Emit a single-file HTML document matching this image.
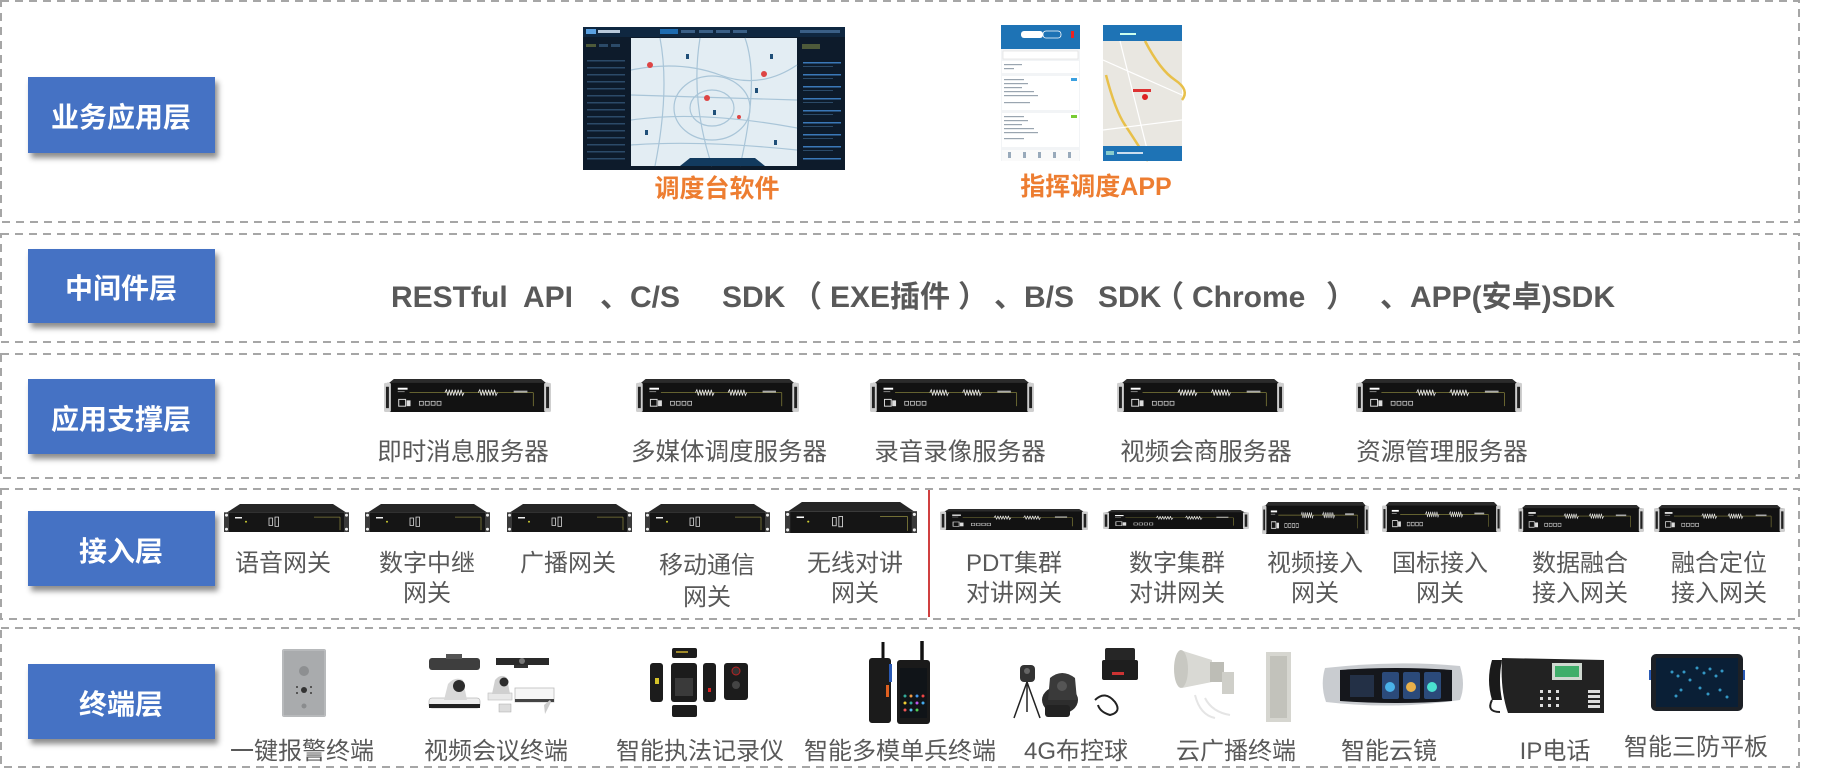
<!DOCTYPE html>
<html>
<head>
<meta charset="utf-8">
<style>
html,body{margin:0;padding:0;background:#fff;}
svg{display:block;}
text{font-family:"Liberation Sans","Noto Sans CJK SC",sans-serif;}
</style>
</head>
<body>
<svg width="1834" height="779" viewBox="0 0 1834 779" xmlns="http://www.w3.org/2000/svg">
<defs>
  <filter id="sh" x="-10%" y="-10%" width="130%" height="150%">
    <feDropShadow dx="3" dy="5" stdDeviation="3" flood-color="#000" flood-opacity="0.45"/>
  </filter>
  <symbol id="srv" viewBox="0 0 170 34" preserveAspectRatio="none">
    <polygon points="10,0 160,0 166,5 4,5" fill="#2b2b2b"/>
    <rect x="3" y="4" width="164" height="30" fill="#121212"/>
    <rect x="0" y="4" width="7" height="30" rx="1.5" fill="#cfcfcf"/>
    <rect x="2" y="8" width="3" height="22" fill="#222"/>
    <rect x="163" y="4" width="7" height="30" rx="1.5" fill="#cfcfcf"/>
    <rect x="165" y="8" width="3" height="22" fill="#222"/>
    <rect x="14" y="9" width="10" height="2" fill="#fff"/>
    <rect x="14" y="12.5" width="7" height="1" fill="#888"/>
    <line x1="26" y1="14" x2="152" y2="14" stroke="#807c3a" stroke-width="0.8"/>
    <line x1="152" y1="14" x2="152" y2="28" stroke="#807c3a" stroke-width="0.8"/>
    <path d="M62 14 l1.5 -3 l1.5 6 l1.5 -6 l1.5 6 l1.5 -6 l1.5 6 l1.5 -6 l1.5 6 l1.5 -6 l1.5 6 l1.5 -6 l1.5 6 l1.5 -3" fill="none" stroke="#eee" stroke-width="0.8"/>
    <path d="M96 14 l1.5 -3 l1.5 6 l1.5 -6 l1.5 6 l1.5 -6 l1.5 6 l1.5 -6 l1.5 6 l1.5 -6 l1.5 6 l1.5 -6 l1.5 6 l1.5 -3" fill="none" stroke="#eee" stroke-width="0.8"/>
    <rect x="132" y="12" width="14" height="2" fill="#aaa"/>
    <rect x="15" y="21" width="7" height="7" fill="none" stroke="#ddd" stroke-width="1"/>
    <rect x="23" y="22" width="4" height="6" fill="#ddd"/>
    <rect x="36" y="23" width="4" height="4" fill="none" stroke="#ccc" stroke-width="0.8"/>
    <rect x="42" y="23" width="4" height="4" fill="none" stroke="#ccc" stroke-width="0.8"/>
    <rect x="48" y="23" width="4" height="4" fill="none" stroke="#ccc" stroke-width="0.8"/>
    <rect x="54" y="23" width="4" height="4" fill="none" stroke="#ccc" stroke-width="0.8"/>
  </symbol>
  <symbol id="gw" viewBox="0 0 125 30" preserveAspectRatio="none">
    <polygon points="16,0 109,0 122,9 3,9" fill="#262626"/>
    <rect x="0" y="9" width="125" height="21" fill="#151515"/>
    <rect x="0" y="9" width="5" height="21" fill="#3a3a3a"/>
    <rect x="120" y="9" width="5" height="21" fill="#3a3a3a"/>
    <circle cx="2.5" cy="12" r="1.5" fill="#eee"/>
    <circle cx="2.5" cy="27" r="1.5" fill="#eee"/>
    <circle cx="122.5" cy="12" r="1.5" fill="#eee"/>
    <circle cx="122.5" cy="27" r="1.5" fill="#eee"/>
    <rect x="11" y="14" width="7" height="1.5" fill="#fff"/>
    <circle cx="22" cy="19" r="1" fill="#cc3"/>
    <rect x="45" y="15" width="3.5" height="8" fill="none" stroke="#ddd" stroke-width="0.8"/>
    <rect x="51" y="14" width="3.5" height="10" fill="none" stroke="#ddd" stroke-width="0.8"/>
    <line x1="90" y1="14" x2="116" y2="14" stroke="#807c3a" stroke-width="0.8"/>
    <line x1="116" y1="14" x2="116" y2="28" stroke="#807c3a" stroke-width="0.8"/>
  </symbol>
</defs>

<!-- dashed layer boxes -->
<g fill="none" stroke="#A6A6A6" stroke-width="2" stroke-dasharray="8 6">
  <rect x="1" y="1" width="1798" height="221"/>
  <rect x="1" y="234" width="1798" height="108"/>
  <rect x="1" y="354" width="1798" height="124"/>
  <rect x="1" y="489" width="1798" height="130"/>
  <rect x="1" y="628" width="1798" height="139"/>
</g>
<line x1="929" y1="490" x2="929" y2="617" stroke="#C00000" stroke-width="1.5"/>

<!-- label boxes -->
<g filter="url(#sh)" fill="#4472C4">
  <rect x="28" y="77" width="187" height="76"/>
  <rect x="28" y="249" width="187" height="74"/>
  <rect x="28" y="379" width="187" height="75"/>
  <rect x="28" y="511" width="187" height="75"/>
  <rect x="28" y="664" width="187" height="75"/>
</g>
<g fill="#fff" font-size="28" font-weight="bold" text-anchor="middle">
  <text x="121" y="127">业务应用层</text>
  <text x="121" y="298">中间件层</text>
  <text x="121" y="429">应用支撑层</text>
  <text x="121" y="561">接入层</text>
  <text x="121" y="714">终端层</text>
</g>

<!-- dispatch software screenshot -->
<g>
  <rect x="583" y="27" width="262" height="143" fill="#0d1b2b"/>
  <rect x="583" y="27" width="262" height="10" fill="#0f2740"/>
  <rect x="586" y="29" width="10" height="5" fill="#5aa0e0"/>
  <rect x="598" y="30" width="22" height="3" fill="#b9c9da"/>
  <rect x="660" y="29" width="18" height="5" fill="#1d6bb0"/>
  <rect x="681" y="30" width="14" height="3" fill="#3a5f86"/>
  <rect x="699" y="30" width="14" height="3" fill="#3a5f86"/>
  <rect x="716" y="30" width="14" height="3" fill="#3a5f86"/>
  <rect x="733" y="30" width="14" height="3" fill="#3a5f86"/>
  <rect x="800" y="30" width="40" height="3" fill="#3a5f86"/>
  <g fill="#2b4a68">
    <rect x="586" y="44" width="10" height="3" fill="#4d5a3a"/>
    <rect x="599" y="44" width="9" height="3"/><rect x="611" y="44" width="9" height="3"/>
    <rect x="587" y="60" width="38" height="1.5"/><rect x="587" y="67" width="38" height="1.5"/>
    <rect x="587" y="74" width="38" height="1.5"/><rect x="587" y="81" width="38" height="1.5"/>
    <rect x="587" y="88" width="38" height="1.5"/><rect x="587" y="95" width="38" height="1.5"/>
    <rect x="587" y="102" width="38" height="1.5"/><rect x="587" y="109" width="38" height="1.5"/>
    <rect x="587" y="116" width="38" height="1.5"/><rect x="587" y="123" width="38" height="1.5"/>
    <rect x="587" y="130" width="38" height="1.5"/><rect x="587" y="137" width="38" height="1.5"/>
    <rect x="587" y="144" width="38" height="1.5"/><rect x="587" y="151" width="38" height="1.5"/>
    <rect x="587" y="158" width="38" height="1.5"/>
  </g>
  <rect x="631" y="38" width="166" height="128" fill="#e3edf3"/>
  <g fill="none" stroke="#a9c5d8" stroke-width="1.2">
    <path d="M631 70 Q680 60 720 75 T797 65"/>
    <path d="M660 38 Q670 90 655 166"/>
    <path d="M700 38 Q690 100 712 166"/>
    <path d="M631 120 Q700 110 797 128"/>
    <path d="M745 38 Q760 80 740 166"/>
    <ellipse cx="712" cy="108" rx="38" ry="32"/>
    <ellipse cx="712" cy="108" rx="22" ry="18"/>
    <path d="M631 95 L797 100"/>
    <path d="M631 145 Q700 140 797 150"/>
  </g>
  <path d="M680 166 L690 158 L755 158 L765 166 Z" fill="#123a5e"/>
  <g fill="#d44"><circle cx="650" cy="65" r="3"/><circle cx="764" cy="74" r="3"/><circle cx="707" cy="98" r="3"/><circle cx="739" cy="117" r="2"/></g>
  <g fill="#1f4f78"><rect x="686" y="54" width="3" height="5"/><rect x="770" y="54" width="3" height="5"/><rect x="755" y="88" width="3" height="5"/><rect x="713" y="110" width="3" height="5"/><rect x="645" y="130" width="3" height="5"/><rect x="774" y="140" width="3" height="5"/></g>
  <g fill="#2b4a68">
    <rect x="802" y="44" width="18" height="5" fill="#4d5a3a"/>
    <rect x="803" y="62" width="38" height="1.5" fill="#3a78b8"/><rect x="803" y="66" width="30" height="1"/>
    <rect x="803" y="74" width="38" height="1.5" fill="#3a78b8"/><rect x="803" y="78" width="30" height="1"/>
    <rect x="803" y="86" width="38" height="1.5" fill="#3a78b8"/><rect x="803" y="90" width="30" height="1"/>
    <rect x="803" y="98" width="38" height="1.5" fill="#3a78b8"/><rect x="803" y="102" width="30" height="1"/>
    <rect x="803" y="110" width="38" height="1.5" fill="#3a78b8"/><rect x="803" y="114" width="30" height="1"/>
    <rect x="803" y="122" width="38" height="1.5" fill="#3a78b8"/><rect x="803" y="126" width="30" height="1"/>
    <rect x="803" y="134" width="38" height="1.5" fill="#3a78b8"/><rect x="803" y="138" width="30" height="1"/>
    <rect x="803" y="146" width="38" height="1.5" fill="#3a78b8"/><rect x="803" y="150" width="30" height="1"/>
    <rect x="803" y="158" width="38" height="1.5" fill="#3a78b8"/>
  </g>
</g>

<!-- phone screenshot 1 -->
<g>
  <rect x="1001" y="25" width="79" height="136" fill="#f2f4f6"/>
  <rect x="1001" y="25" width="79" height="24" fill="#1e73b5"/>
  <rect x="1021" y="31" width="22" height="7" rx="3" fill="#fff"/>
  <rect x="1043" y="31" width="18" height="7" rx="3" fill="none" stroke="#fff" stroke-width="0.8"/>
  <rect x="1071" y="31" width="3" height="7" fill="#e22"/>
  <rect x="1003" y="51" width="75" height="8" fill="#fff" stroke="#ddd" stroke-width="0.6"/>
  <rect x="1002" y="61" width="77" height="12" fill="#fff"/>
  <rect x="1002" y="76" width="77" height="34" fill="#fff"/>
  <rect x="1002" y="113" width="77" height="34" fill="#fff"/>
  <g fill="#9aa5b0">
    <rect x="1004" y="79" width="20" height="1.2"/><rect x="1004" y="83" width="24" height="1.2"/><rect x="1004" y="87" width="18" height="1.2"/><rect x="1004" y="91" width="30" height="1.2"/><rect x="1004" y="95" width="34" height="1.2"/><rect x="1004" y="102" width="26" height="1.2"/>
    <rect x="1004" y="116" width="20" height="1.2"/><rect x="1004" y="120" width="24" height="1.2"/><rect x="1004" y="124" width="18" height="1.2"/><rect x="1004" y="128" width="30" height="1.2"/><rect x="1004" y="132" width="34" height="1.2"/><rect x="1004" y="138" width="20" height="1.2"/>
    <rect x="1004" y="64" width="18" height="1.2"/><rect x="1004" y="68" width="10" height="1.2"/>
  </g>
  <rect x="1071" y="78" width="6" height="3" fill="#3aa0e0"/>
  <rect x="1071" y="115" width="6" height="3" fill="#7c3"/>
  <rect x="1002" y="150" width="77" height="11" fill="#fafafa"/>
  <g fill="#9ab"><rect x="1008" y="152" width="3" height="6"/><rect x="1023" y="152" width="3" height="6"/><rect x="1038" y="152" width="3" height="6"/><rect x="1053" y="152" width="3" height="6"/><rect x="1068" y="152" width="3" height="6"/></g>
</g>
<!-- phone screenshot 2 -->
<g>
  <rect x="1103" y="25" width="79" height="136" fill="#e9e7e1"/>
  <rect x="1103" y="25" width="79" height="16" fill="#1e73b5"/>
  <rect x="1120" y="33" width="16" height="2" fill="#cfe"/>
  <path d="M1106 75 Q1115 110 1125 125 T1148 161" fill="none" stroke="#e8c04a" stroke-width="2.5"/>
  <path d="M1145 41 Q1160 70 1175 80 T1182 100" fill="none" stroke="#e8c04a" stroke-width="2.5"/>
  <g fill="none" stroke="#fff" stroke-width="1.2"><path d="M1103 60 L1182 95"/><path d="M1120 41 L1150 161"/><path d="M1103 130 L1182 120"/></g>
  <circle cx="1145" cy="97" r="3" fill="#d22"/>
  <rect x="1133" y="89" width="18" height="3" fill="#d33"/>
  <rect x="1103" y="146" width="79" height="15" fill="#1e73b5"/>
  <rect x="1106" y="151" width="8" height="4" fill="#8cc"/>
  <rect x="1117" y="152" width="26" height="2" fill="#cde"/>
</g>

<!-- captions -->
<g fill="#ED7D31" font-size="25" font-weight="bold" text-anchor="middle">
  <text x="717" y="197">调度台软件</text>
  <text x="1096" y="195">指挥调度APP</text>
</g>

<!-- middleware text -->
<g fill="#595959" font-size="30" font-weight="bold">
  <text x="391" y="307">RESTful</text>
  <text x="523" y="307">API</text>
  <text x="600" y="307">、C/S</text>
  <text x="722" y="307">SDK</text>
  <text x="792" y="307" font-family="'Noto Sans CJK SC',sans-serif">（</text>
  <text x="830" y="307">EXE插件</text>
  <text x="958" y="307" font-family="'Noto Sans CJK SC',sans-serif">）</text>
  <text x="994" y="307">、B/S</text>
  <text x="1098" y="307">SDK</text>
  <text x="1154" y="307" font-family="'Noto Sans CJK SC',sans-serif">（</text>
  <text x="1192" y="307">Chrome</text>
  <text x="1326" y="307" font-family="'Noto Sans CJK SC',sans-serif">）</text>
  <text x="1380" y="307">、APP(安卓)SDK</text>
</g>

<!-- servers -->
<use href="#srv" x="384" y="379" width="167" height="33"/>
<use href="#srv" x="636" y="379" width="163" height="33"/>
<use href="#srv" x="870" y="379" width="164" height="33"/>
<use href="#srv" x="1117" y="379" width="167" height="33"/>
<use href="#srv" x="1356" y="379" width="166" height="33"/>
<g fill="#595959" font-size="24.5" text-anchor="middle">
  <text x="463" y="460">即时消息服务器</text>
  <text x="729" y="460">多媒体调度服务器</text>
  <text x="960" y="460">录音录像服务器</text>
  <text x="1206" y="460">视频会商服务器</text>
  <text x="1442" y="460">资源管理服务器</text>
</g>

<!-- gateways -->
<use href="#gw" x="224" y="504" width="125" height="28"/>
<use href="#gw" x="365" y="504" width="125" height="28"/>
<use href="#gw" x="507" y="504" width="125" height="28"/>
<use href="#gw" x="645" y="504" width="125" height="28"/>
<use href="#gw" x="785" y="502" width="132" height="31"/>
<use href="#srv" x="940" y="509" width="148" height="21"/>
<use href="#srv" x="1103" y="510" width="146" height="19"/>
<use href="#srv" x="1262" y="502" width="107" height="32"/>
<use href="#srv" x="1382" y="502" width="119" height="30"/>
<use href="#srv" x="1518" y="505" width="126" height="27"/>
<use href="#srv" x="1654" y="505" width="131" height="27"/>
<g fill="#595959" font-size="24" text-anchor="middle">
  <text x="283" y="571">语音网关</text>
  <text x="427" y="571">数字中继</text><text x="427" y="601">网关</text>
  <text x="568" y="571">广播网关</text>
  <text x="707" y="573">移动通信</text><text x="707" y="605">网关</text>
  <text x="855" y="571">无线对讲</text><text x="855" y="601">网关</text>
  <text x="1014" y="571">PDT集群</text><text x="1014" y="601">对讲网关</text>
  <text x="1177" y="571">数字集群</text><text x="1177" y="601">对讲网关</text>
  <text x="1315" y="571">视频接入</text><text x="1315" y="601">网关</text>
  <text x="1440" y="571">国标接入</text><text x="1440" y="601">网关</text>
  <text x="1580" y="571">数据融合</text><text x="1580" y="601">接入网关</text>
  <text x="1719" y="571">融合定位</text><text x="1719" y="601">接入网关</text>
</g>

<!-- terminals -->
<g>
  <rect x="282" y="649" width="44" height="68" rx="2" fill="#a9abad"/>
  <rect x="283" y="650" width="42" height="66" fill="none" stroke="#c5c7c9" stroke-width="1"/>
  <circle cx="304" cy="671" r="5" fill="#8d8f91"/>
  <circle cx="304" cy="690" r="3" fill="#333"/>
  <g fill="#555"><rect x="296" y="686" width="2" height="2"/><rect x="296" y="692" width="2" height="2"/><rect x="310" y="686" width="2" height="2"/><rect x="310" y="692" width="2" height="2"/></g>
  <circle cx="304" cy="706" r="2.5" fill="#8a8c8e"/>
</g>
<g>
  <rect x="429" y="658" width="51" height="12" rx="3" fill="#3e3e3e"/>
  <rect x="446" y="654" width="16" height="5" fill="#555"/>
  <rect x="496" y="658" width="53" height="7" fill="#2a2a2a"/>
  <circle cx="522" cy="661" r="3" fill="#777"/>
  <rect x="514" y="665" width="14" height="3" fill="#333"/>
  <rect x="429" y="698" width="51" height="10" rx="3" fill="#eee" stroke="#bbb" stroke-width="0.8"/>
  <rect x="429" y="704" width="51" height="4" fill="#222"/>
  <path d="M444 700 L448 684 Q455 676 463 680 L467 700 Z" fill="#d8d8d8"/>
  <circle cx="459" cy="686" r="6" fill="#2c2c2c"/>
  <rect x="488" y="693" width="24" height="7" fill="#e8e8e8" stroke="#bbb" stroke-width="0.6"/>
  <path d="M492 694 L495 680 Q501 673 507 678 L510 694 Z" fill="#d0d0d0"/>
  <circle cx="504" cy="682" r="4.5" fill="#2c2c2c"/>
  <rect x="515" y="688" width="39" height="14" fill="#f6f6f6" stroke="#bdbdbd" stroke-width="0.8"/>
  <rect x="515" y="699" width="39" height="3" fill="#444"/>
  <rect x="499" y="704" width="12" height="8" fill="#ddd" stroke="#aaa" stroke-width="0.5"/>
  <path d="M544 705 L550 700 L551 702 L545 714 Z" fill="#ccc"/>
</g>
<g fill="#1c1c1c">
  <rect x="672" y="648" width="25" height="10" rx="2"/>
  <rect x="676" y="651" width="12" height="2" fill="#a08a2a"/>
  <rect x="650" y="663" width="13" height="39" rx="3"/>
  <rect x="655" y="678" width="4" height="6" fill="#d4c22a"/>
  <rect x="671" y="663" width="26" height="39" rx="3"/>
  <rect x="675" y="678" width="18" height="18" fill="#3a3a3a"/>
  <rect x="703" y="663" width="13" height="39" rx="3"/>
  <rect x="708" y="688" width="3" height="4" fill="#d22"/>
  <rect x="724" y="663" width="24" height="37" rx="3"/>
  <circle cx="736" cy="671" r="4" fill="#333" stroke="#b22" stroke-width="1"/>
  <circle cx="736" cy="685" r="4" fill="#444"/>
  <rect x="672" y="705" width="25" height="12" rx="2"/>
</g>
<g>
  <line x1="883" y1="642" x2="883" y2="660" stroke="#111" stroke-width="3"/>
  <rect x="869" y="658" width="22" height="65" rx="3" fill="#1b1b1b"/>
  <rect x="889" y="664" width="3" height="18" fill="#2a5ab5"/>
  <rect x="886" y="685" width="3" height="12" fill="#e06020"/>
  <line x1="922" y1="641" x2="922" y2="662" stroke="#111" stroke-width="3.5"/>
  <rect x="897" y="660" width="33" height="64" rx="3" fill="#1a1a1a"/>
  <rect x="900" y="668" width="27" height="50" fill="#101418"/>
  <g fill="#3a9"><circle cx="905" cy="696" r="1.5"/><circle cx="911" cy="696" r="1.5" fill="#e94"/><circle cx="917" cy="696" r="1.5" fill="#49e"/><circle cx="923" cy="696" r="1.5" fill="#e44"/>
  <circle cx="905" cy="703" r="1.5" fill="#ec3"/><circle cx="911" cy="703" r="1.5"/><circle cx="917" cy="703" r="1.5" fill="#b5e"/><circle cx="923" cy="703" r="1.5" fill="#4ae"/>
  <circle cx="905" cy="710" r="1.5" fill="#e55"/><circle cx="911" cy="710" r="1.5" fill="#5be"/><circle cx="917" cy="710" r="1.5" fill="#5c5"/></g>
</g>
<g>
  <rect x="1020" y="665" width="15" height="17" rx="4" fill="#333"/>
  <circle cx="1027" cy="671" r="3" fill="#666"/>
  <g stroke="#222" stroke-width="1.5"><line x1="1027" y1="682" x2="1014" y2="718"/><line x1="1027" y1="682" x2="1040" y2="718"/><line x1="1027" y1="682" x2="1027" y2="712"/></g>
  <ellipse cx="1060" cy="700" rx="18" ry="14" fill="#2d2d2d"/>
  <path d="M1048 700 L1050 678 Q1062 668 1075 678 L1077 700 Z" fill="#3a3a3a"/>
  <circle cx="1062" cy="686" r="5" fill="#555"/>
  <rect x="1045" y="705" width="25" height="12" rx="3" fill="#222"/>
  <rect x="1105" y="648" width="30" height="13" rx="2" fill="#262626"/>
  <rect x="1102" y="660" width="36" height="20" rx="2" fill="#1e1e1e"/>
  <rect x="1112" y="672" width="12" height="3" fill="#c33"/>
  <path d="M1095 700 Q1105 690 1115 702 Q1122 712 1110 715 Q1100 712 1098 705" fill="none" stroke="#222" stroke-width="2"/>
</g>
<g>
  <path d="M1180 650 Q1174 670 1182 688 L1212 682 L1212 660 Z" fill="#d9d9d4"/>
  <ellipse cx="1181" cy="669" rx="7" ry="19" fill="#c8c8c2"/>
  <rect x="1210" y="662" width="14" height="20" fill="#bdbdb6"/>
  <rect x="1222" y="672" width="12" height="22" fill="#cfcfc9"/>
  <path d="M1195 695 Q1200 715 1215 718 M1205 698 Q1212 712 1230 715" fill="none" stroke="#e5e5e5" stroke-width="2"/>
  <rect x="1266" y="652" width="25" height="70" fill="#d6d6d0"/>
  <rect x="1270" y="656" width="17" height="62" fill="#c2c2bb"/>
</g>
<g>
  <path d="M1325 668 Q1320 685 1326 702 Q1395 710 1460 700 Q1466 685 1460 666 Q1395 660 1325 668 Z" fill="#c9ccd0"/>
  <path d="M1340 670 Q1395 666 1452 670 L1452 701 Q1395 705 1340 701 Z" fill="#15171c"/>
  <rect x="1350" y="675" width="24" height="22" fill="#233046"/>
  <rect x="1382" y="672" width="17" height="27" rx="2" fill="#2b4a7a"/>
  <rect x="1403" y="672" width="17" height="27" rx="2" fill="#2b4a7a"/>
  <rect x="1424" y="672" width="17" height="27" rx="2" fill="#2b4a7a"/>
  <circle cx="1390" cy="687" r="5" fill="#4ab2e8"/>
  <circle cx="1411" cy="687" r="5" fill="#e8b04a"/>
  <circle cx="1432" cy="687" r="5" fill="#4ae0d0"/>
</g>
<g>
  <path d="M1492 660 Q1486 680 1492 700 L1502 700 Q1498 680 1502 660 Z" fill="#1a1a1a"/>
  <path d="M1492 700 Q1486 712 1500 712" fill="none" stroke="#222" stroke-width="2"/>
  <path d="M1502 658 L1604 660 L1604 713 L1508 713 Q1500 690 1502 658 Z" fill="#222"/>
  <rect x="1552" y="663" width="30" height="17" fill="#cfd8d0"/>
  <rect x="1555" y="666" width="24" height="11" fill="#3fae6a"/>
  <g fill="#ddd"><rect x="1588" y="690" width="12" height="3"/><rect x="1588" y="695" width="12" height="3"/><rect x="1588" y="700" width="12" height="3"/><rect x="1588" y="705" width="12" height="3"/>
  <rect x="1540" y="690" width="3" height="3"/><rect x="1548" y="690" width="3" height="3"/><rect x="1556" y="690" width="3" height="3"/>
  <rect x="1540" y="697" width="3" height="3"/><rect x="1548" y="697" width="3" height="3"/><rect x="1556" y="697" width="3" height="3"/>
  <rect x="1540" y="704" width="3" height="3"/><rect x="1548" y="704" width="3" height="3"/><rect x="1556" y="704" width="3" height="3"/></g>
</g>
<g>
  <rect x="1651" y="654" width="92" height="57" rx="5" fill="#1c2026"/>
  <rect x="1656" y="658" width="82" height="49" fill="#0a1f36"/>
  <g fill="#3fb6e8" opacity="0.8">
    <circle cx="1672" cy="672" r="1.5"/><circle cx="1678" cy="676" r="1.5"/><circle cx="1684" cy="672" r="1.5"/><circle cx="1690" cy="680" r="1.5"/><circle cx="1697" cy="668" r="1.5"/><circle cx="1704" cy="673" r="1.5"/><circle cx="1710" cy="669" r="1.5"/><circle cx="1716" cy="676" r="1.5"/><circle cx="1722" cy="671" r="1.5"/><circle cx="1700" cy="688" r="1.5"/><circle cx="1708" cy="694" r="1.5"/><circle cx="1681" cy="690" r="1.5"/><circle cx="1676" cy="696" r="1.5"/><circle cx="1720" cy="690" r="1.5"/><circle cx="1727" cy="697" r="1.5"/>
  </g>
  <rect x="1649" y="670" width="2" height="10" fill="#2a5ab5"/>
  <rect x="1743" y="670" width="2" height="10" fill="#2a5ab5"/>
</g>

<g fill="#595959" font-size="24" text-anchor="middle">
  <text x="302" y="759">一键报警终端</text>
  <text x="496" y="759">视频会议终端</text>
  <text x="700" y="759">智能执法记录仪</text>
  <text x="900" y="759">智能多模单兵终端</text>
  <text x="1076" y="759">4G布控球</text>
  <text x="1236" y="759">云广播终端</text>
  <text x="1389" y="759">智能云镜</text>
  <text x="1555" y="759">IP电话</text>
  <text x="1696" y="755">智能三防平板</text>
</g>
</svg>
</body>
</html>
